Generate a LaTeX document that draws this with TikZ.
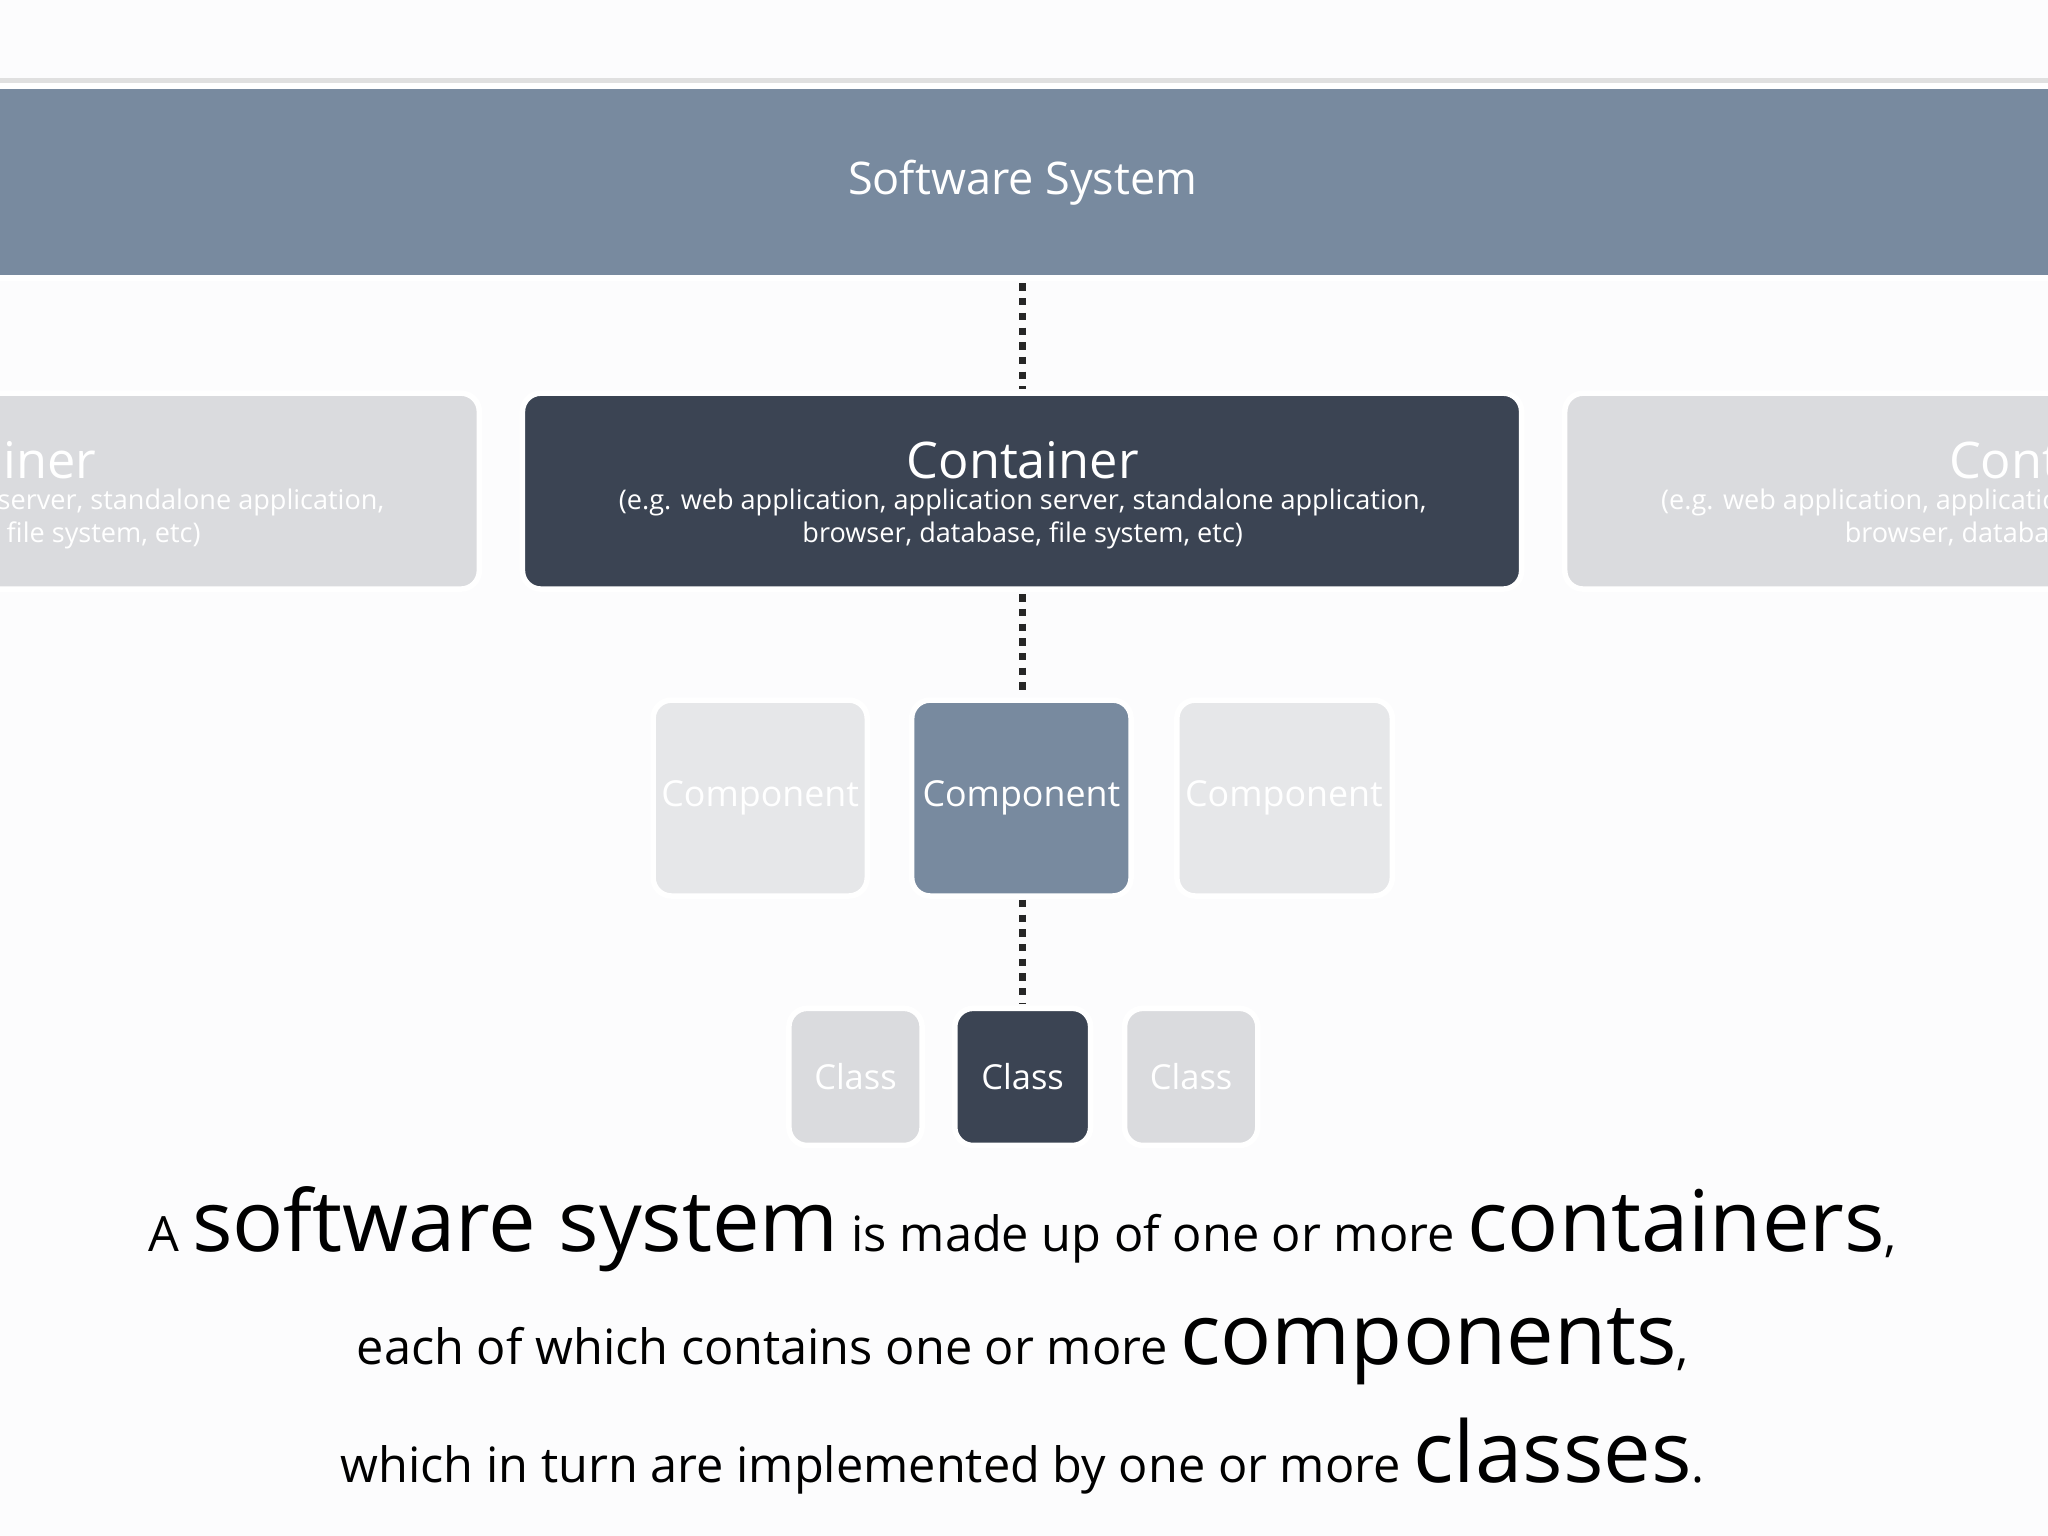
\documentclass[tikz,border=0pt]{standalone}
\usepackage{fontspec}
\setmainfont{Open Sans}
\begin{document}
\begin{tikzpicture}[x=0.1mm,y=-0.1mm,
 box/.style={draw=white,line width=1.2pt,rounded corners=4pt},
 dots/.style={line width=1.6pt,dash pattern=on 1.6pt off 1.6pt,black!85},
 fs/.style={font=\fontsize{#1}{#1}\selectfont}]
\definecolor{slate}{HTML}{788A9F}
\definecolor{dark}{HTML}{3B4453}
\definecolor{faded}{HTML}{DADBDE}
\definecolor{faded2}{HTML}{E6E7E9}
\definecolor{bg}{HTML}{FCFCFD}
\useasboundingbox (0,0) rectangle (1568,1176);
\clip (0,0) rectangle (1568,1176);
\fill[bg] (0,0) rectangle (1568,1176);
\fill[black!12] (-10,60) rectangle (1580,64);
\draw[draw=white,line width=1.2pt,fill=slate] (-16,66) rectangle (1600,213);
\coordinate (sysS) at (783,217);
\node[white,fs=9.8] (systxt) at (783,140) {Software System};
% containers
\draw[box,fill=faded] (-398,301) rectangle (367,451);
\draw[box,fill=dark] (400,301) rectangle (1165,451);
\draw[box,fill=faded] (1198,301) rectangle (1963,451);
\coordinate (ccN) at (783,298); \coordinate (ccS) at (783,455);
\foreach \cx/\nm in {-15/l, 783/c, 1581/r}{
 \node[white,fs=11] (ct\nm) at (\cx,352) {Container};
 \node[white,fs=5.9] (cs\nm) at (\cx,385) {(e.g. web application, application server, standalone application,};
 \node[white,fs=5.9] (cu\nm) at (\cx,410) {browser, database, file system, etc)};
}
% components
\draw[box,fill=faded2] (500,536) rectangle (664,686);
\draw[box,fill=slate] (698,536) rectangle (866,686);
\draw[box,fill=faded2] (901,536) rectangle (1066,686);
\coordinate (pcN) at (783,533); \coordinate (pcS) at (783,689);
\node[white,fs=7.8] (pl) at (582,611) {Component};
\node[white,fs=7.8] (pc) at (782,611) {Component};
\node[white,fs=7.8] (pr) at (983,611) {Component};
% classes
\draw[box,fill=faded] (604,772) rectangle (706,877);
\draw[box,fill=dark] (731,772) rectangle (835,877);
\draw[box,fill=faded] (861,772) rectangle (963,877);
\coordinate (kcN) at (783,769);
\node[white,fs=7.5] (kl) at (655,824) {Class};
\node[white,fs=7.5] (kc) at (783,824) {Class};
\node[white,fs=7.5] (kr) at (912,824) {Class};
% dotted connectors
\draw[dots] (sysS) -- (ccN);
\draw[dots] (ccS) -- (pcN);
\draw[dots] (pcS) -- (kcN);
% text
\node[anchor=base,fs=10.6] (t1) at (783,958) {A {\fontsize{18.5}{18.5}\selectfont software system} is made up of one or more {\fontsize{18.5}{18.5}\selectfont containers},};
\node[anchor=base,fs=10.6] (t2) at (783,1045) {each of which contains one or more {\fontsize{18.5}{18.5}\selectfont components},};
\node[anchor=base,fs=10.6] (t3) at (783,1135) {which in turn are implemented by one or more {\fontsize{18.5}{18.5}\selectfont classes}.};
\end{tikzpicture}
\end{document}
